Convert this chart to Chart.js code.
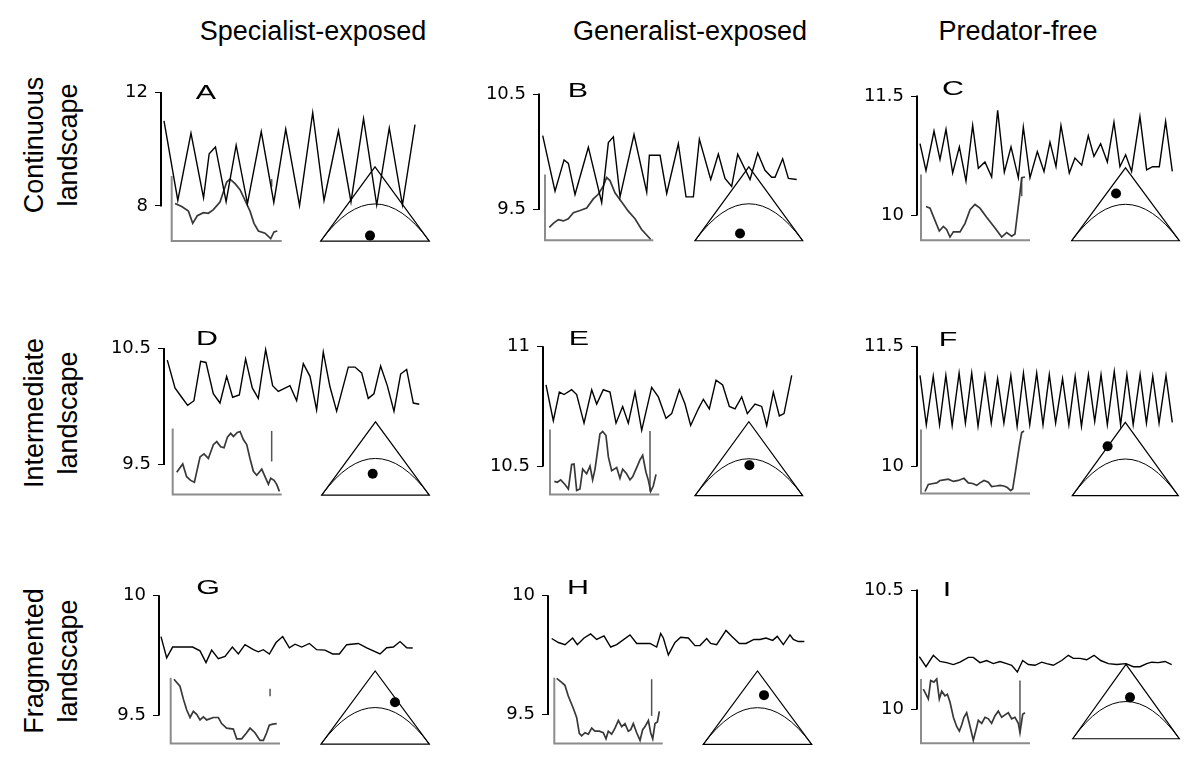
<!DOCTYPE html>
<html>
<head>
<meta charset="utf-8">
<script src="https://cdn.jsdelivr.net/npm/chart.js@4.4.1/dist/chart.umd.min.js"></script>
<style>
  html, body { margin: 0; padding: 0; background: #fff; }
  body { width: 1200px; height: 769px; position: relative; overflow: hidden;
         font-family: "Liberation Sans", Arial, sans-serif; color: #000; }
  canvas { position: absolute; }
  .col { position: absolute; font-size: 27px; line-height: 1; white-space: nowrap;
         transform: translate(-50%, -50%); }
  .row { position: absolute; font-size: 27px; line-height: 34px; width: 220px; text-align: center;
         white-space: nowrap; transform: translate(-50%, -50%) rotate(-90deg); }
  .tag { position: absolute; font-size: 21px; line-height: 1;
         transform: translate(-50%, -50%) scaleX(1.45); }
</style>
</head>
<body>
<script>
// ---- text ----
const columnTitles = ['Specialist-exposed', 'Generalist-exposed', 'Predator-free'];
const rowTitles = [['Continuous', 'landscape'], ['Intermediate', 'landscape'], ['Fragmented', 'landscape']];
const panelLetters = ['A', 'B', 'C', 'D', 'E', 'F', 'G', 'H', 'I'];

// y tick labels of each panel [lower, upper]
const yTicks = [[8, 12], [9.5, 10.5], [10, 11.5], [9.5, 10.5], [10.5, 11], [10, 11.5], [9.5, 10], [9.5, 10], [10, 10.5]];

// ---- main series: [generation, value] ----
const mainA = [[0,11.0],[2.2,8.19],[4.3,10.57],[6.3,8.28],[7.2,9.84],[8.2,10.08],[9.9,8.15],[11.5,10.14],[13.3,8.08],[15.5,10.62],[17.5,8.12],[19.4,10.71],[21.6,8.01],[23.7,11.29],[25.5,8.19],[27.8,10.65],[29.8,8.14],[31.8,11.08],[33.9,8.03],[35.9,10.75],[38.0,8.03],[40,10.87]];
const mainB = [[0,10.14],[1.94,9.66],[3.36,9.93],[4.04,9.9],[5.09,9.63],[7.19,10.04],[9.29,9.56],[10.34,10.08],[11.13,10.13],[12.18,9.61],[14.38,10.15],[16.38,9.65],[16.8,9.97],[18.48,9.97],[19.53,9.64],[21.36,10.07],[22.57,9.61],[23.73,9.61],[24.67,10.11],[26.46,9.76],[27.66,9.98],[28.71,9.77],[29.76,9.7],[30.71,9.98],[32.65,9.76],[33.86,9.99],[35.01,9.84],[36.06,9.78],[36.59,9.78],[37.79,9.94],[38.69,9.77],[40,9.76]];
const mainC = [[0,10.9],[0.95,10.56],[2.22,11.06],[3.17,10.7],[4.12,11.08],[5.18,10.53],[6.24,10.86],[7.29,10.43],[8.35,11.13],[9.25,10.59],[10.3,10.67],[11.36,10.48],[12.31,11.32],[13.37,10.54],[14.43,10.86],[15.59,10.47],[16.38,11.11],[17.44,10.47],[18.6,10.8],[19.66,10.55],[20.61,10.92],[21.56,10.61],[22.35,11.13],[23.67,10.53],[24.57,10.72],[25.63,10.63],[26.68,11.0],[27.58,10.74],[28.64,10.9],[29.7,10.67],[30.75,11.17],[31.7,10.61],[32.6,10.76],[33.55,10.55],[34.87,11.24],[35.93,10.57],[36.88,10.61],[37.94,10.61],[38.94,11.18],[40,10.55]];
const mainD = [[0,10.4],[1.22,10.16],[2.28,10.08],[3.23,10.01],[4.23,10.05],[5.29,10.39],[6.14,10.38],[7.3,10.11],[8.36,10.03],[9.42,10.26],[10.37,10.08],[11.43,10.1],[12.43,10.41],[13.49,10.16],[14.44,10.07],[15.61,10.49],[16.72,10.18],[17.62,10.13],[19.47,10.18],[20.53,10.05],[21.59,10.37],[22.65,10.26],[23.7,9.97],[24.76,10.47],[25.82,10.17],[26.88,9.96],[28.73,10.34],[29.79,10.34],[30.85,10.29],[31.9,10.07],[32.8,10.11],[33.86,10.35],[34.92,10.18],[35.98,9.96],[37.04,10.28],[37.99,10.32],[39.05,10.03],[40,10.02]];
const mainE = [[0,10.84],[1.19,10.69],[2.17,10.81],[2.93,10.8],[4.18,10.82],[4.99,10.8],[6.19,10.68],[7.44,10.82],[8.25,10.76],[9.33,10.82],[10.42,10.81],[11.4,10.68],[12.48,10.75],[13.4,10.68],[14.49,10.81],[15.58,10.65],[17.2,10.83],[18.29,10.79],[19.54,10.7],[20.46,10.72],[21.71,10.82],[22.63,10.76],[23.55,10.67],[24.8,10.74],[25.62,10.78],[26.59,10.74],[27.68,10.86],[28.76,10.84],[29.85,10.75],[30.77,10.74],[31.86,10.79],[32.78,10.72],[34.03,10.76],[35.11,10.75],[35.93,10.67],[37.01,10.81],[37.99,10.71],[38.75,10.72],[40,10.88]];
const mainF = [[0,11.14],[1,10.52],[2.1,11.13],[3.1,10.52],[4.1,11.14],[5.1,10.51],[6.2,11.17],[7.2,10.54],[8.2,11.17],[9.2,10.5],[10.3,11.14],[11.3,10.54],[12.3,11.1],[13.3,10.54],[14.4,11.14],[15.4,10.5],[16.4,11.17],[17.4,10.52],[18.5,11.17],[19.5,10.52],[20.5,11.15],[21.5,10.54],[22.6,11.1],[23.6,10.52],[24.6,11.13],[25.6,10.5],[26.7,11.15],[27.7,10.56],[28.7,11.15],[29.7,10.52],[30.8,11.19],[31.8,10.52],[32.8,11.15],[33.8,10.52],[34.9,11.15],[35.9,10.54],[36.9,11.13],[37.9,10.54],[39,11.14],[40,10.55]];
const mainG = [[0,9.829],[0.9,9.74],[1.85,9.785],[5.03,9.785],[6.2,9.769],[7.15,9.72],[8.05,9.772],[9.11,9.736],[10.17,9.746],[11.34,9.785],[12.29,9.756],[13.35,9.795],[14.68,9.774],[15.47,9.765],[16.26,9.774],[17.22,9.756],[18.28,9.804],[19.34,9.829],[20.4,9.782],[21.3,9.797],[22.36,9.785],[23.58,9.8],[24.74,9.774],[26.07,9.772],[27.28,9.756],[28.34,9.756],[29.51,9.795],[31.36,9.8],[32.69,9.782],[34.81,9.756],[35.87,9.782],[36.93,9.785],[37.99,9.808],[39.05,9.782],[40,9.781]];
const mainH = [[0,9.82],[1.06,9.803],[2.11,9.794],[3.32,9.822],[4.06,9.794],[5.12,9.822],[6.17,9.839],[7.12,9.816],[8.28,9.831],[9.34,9.784],[10.29,9.794],[12.4,9.835],[13.46,9.799],[15.57,9.799],[16.62,9.784],[17.26,9.841],[17.68,9.822],[18.47,9.751],[19.53,9.803],[20.42,9.825],[21.64,9.822],[22.69,9.79],[23.48,9.79],[24.54,9.82],[25.17,9.799],[26.12,9.794],[27.6,9.854],[28.5,9.829],[29.71,9.799],[30.77,9.799],[32.03,9.816],[32.98,9.816],[33.93,9.822],[34.99,9.812],[35.72,9.829],[36.68,9.794],[37.73,9.835],[38.26,9.816],[39.05,9.807],[40,9.807]];
const mainI = [[0,10.22],[1.06,10.178],[2.22,10.226],[3.28,10.2],[4.33,10.195],[5.39,10.187],[6.45,10.197],[7.77,10.217],[8.56,10.217],[9.62,10.195],[10.67,10.204],[11.73,10.191],[12.79,10.2],[13.84,10.191],[14.64,10.184],[15.54,10.156],[16.38,10.204],[17.28,10.187],[18.34,10.184],[19.39,10.197],[20.19,10.191],[21.24,10.184],[22.56,10.204],[23.62,10.226],[24.41,10.213],[25.47,10.213],[26.53,10.207],[27.69,10.226],[28.75,10.204],[29.96,10.191],[31.28,10.187],[32.76,10.191],[33.92,10.178],[34.98,10.178],[36.04,10.191],[36.83,10.197],[37.89,10.195],[38.94,10.2],[40,10.187]];

// ---- inset series: [% of run, % of inset range] ----
const insetA = [[3,57.7],[9.1,53],[15.2,46],[19.1,27.2],[23.3,39],[28.8,43.7],[33.3,42.7],[37.9,48.4],[43.9,60],[50,90.6],[53,95.3],[57.6,88.3],[62.1,78.9],[66.7,62.4],[71.2,46],[74.8,27.2],[78.8,15.5],[84.8,12.2],[90,3.8],[93,14.1],[96,15.5]];
const insetB = [[4,19.5],[7.7,25.6],[12.3,31.2],[17,29.3],[21.5,32.6],[26.2,41.9],[32.3,45.1],[38.5,48.8],[44.6,62.8],[49.2,69.8],[53.8,82.3],[56.9,95.3],[60,90.7],[64.6,72.1],[70.8,58.1],[76.9,44.2],[83.1,32.6],[89.2,16.3],[97.5,1.4]];
const insetC = [[4.6,51.2],[8.3,48.8],[12.8,30.2],[16.8,14],[20.5,20.9],[23.5,16.3],[26.6,4.7],[29.7,12.6],[35.8,12.6],[40.4,25.6],[45,46.5],[49.5,54.4],[54.1,48.8],[60.2,34.9],[67.9,18.6],[74,4.7],[78.6,11.6],[83.2,6],[86.2,9.3],[90.8,72.1],[92.4,95.3],[95.4,96.3]];
const insetD = [[3.7,33.8],[9.2,46.3],[12.8,26.9],[16.5,21.3],[19.9,18.5],[25.1,56.9],[28.7,61.6],[32.7,54.6],[37.3,75.5],[40.4,80.1],[44,72.2],[47.1,70.8],[50.2,87],[53.2,92.6],[55.7,88],[59.3,94],[61.8,95.4],[64.8,83.3],[67.9,75.5],[70.9,54.6],[74,35.2],[77.1,29.2],[81.7,38.4],[84.7,26.9],[87.8,15.3],[89.9,24.5],[93,21.3],[95.4,15.3],[97.9,4.6]];
const insetE = [[4,20.2],[6.7,18.8],[9.8,22.5],[13.7,15.5],[16.8,8.5],[19.8,46],[22,46.9],[24.4,6.1],[27.4,8.5],[29.9,39],[33.5,31.9],[36.6,43.7],[39,22.5],[41.2,39],[45.7,93],[48.2,96.7],[51.2,90.6],[53.4,57.7],[56.4,36.6],[61,41.3],[64,24.9],[66.5,39],[70.1,31.9],[73.2,22.5],[75.6,27.2],[79.3,41.3],[82.3,53.1],[84.8,60.1],[87.8,34.3],[89.9,22.5],[92.1,4.7],[94.5,13.1],[97,31]];
const insetF = [[3.7,3.3],[6.7,14.3],[11.3,15.7],[14.4,16.7],[17.4,20.5],[21.1,21.4],[25.1,22.4],[29.7,19],[34.3,20.5],[39.4,23.8],[43.4,16.7],[47.4,15.7],[51.1,12.9],[54.1,16.7],[57.8,20.5],[61.8,17.6],[64.8,11],[68.8,11.9],[72.5,12.9],[76.1,11.9],[79.2,9.5],[82.3,4.8],[84.1,7.1],[87.2,40.5],[90.2,73.8],[92.4,95.2],[94.5,97.6]];
const insetG = [[3,97.7],[8.5,87],[11.6,67.4],[14.6,51.2],[17.7,39.5],[20.7,48.8],[23.8,44.2],[26.8,35.8],[29.9,40.5],[32.9,35.8],[39,39.5],[43.6,39.5],[46.6,30.2],[51.2,23.3],[57.3,21.9],[60.4,7],[64.9,7],[69.5,16.3],[72.6,23.3],[77.1,16.3],[81.7,4.7],[84.8,4.7],[87.8,16.3],[90.2,27.9],[93.3,29.3],[97,30.2]];
const insetH = [[2.2,99],[6.8,93],[9.8,88.4],[12.9,72.1],[17.5,53.5],[20.6,39.5],[23.1,15.3],[25.2,11.6],[28.3,16.3],[31.4,14],[34.5,23.3],[37.5,18.6],[41.5,18.6],[45.2,16.3],[47.7,7],[49.8,18.6],[52.9,14],[56,23.3],[59.1,34.9],[62.2,25.6],[65.2,30.2],[68.3,18.6],[70.5,20.9],[72.9,30.2],[76,16.3],[79.1,4.7],[81.5,20.9],[83.7,25.6],[86.8,34.9],[88.9,16.3],[90.8,7],[92.9,30.2],[95.1,32.6],[96.9,48.8]];
const insetI = [[2.1,84.3],[4.6,76.2],[6.7,69],[8.9,97.6],[11.9,95.2],[14.4,100],[16.8,69],[19,81],[22,73.8],[24.2,76.2],[26.6,64.3],[29.7,40.5],[32.7,26.2],[35.2,19],[37.3,28.6],[39.4,40.5],[41.9,47.6],[45,26.2],[48,4.8],[50.5,21.4],[52.6,35.7],[55.7,31],[58.7,40.5],[61.8,38.1],[64.8,31],[67.9,42.9],[70.9,50],[74,40.5],[77.1,44.3],[80.1,47.6],[83.2,38.1],[86.2,40.5],[89.3,31],[90.8,16.7],[93.3,45.2],[95.4,47.6]];

// vertical bar drawn in some insets: [position, low, high] (null = none)
const insetBars = [[90.9,83.6,95.3], null, [92.4,67,95], [90.8,50,96.3], [91.5,4.7,97.7], null, [90.9,71.6,83.3], [89.8,41.9,97.7], [90.8,16.7,97.6]];

// point inside each simplex triangle: [across base 0..1, height 0..1]
const dots = [[0.454,0.074], [0.418,0.099], [0.412,0.649], [0.474,0.292], [0.505,0.413], [0.333,0.675], [0.683,0.573], [0.56,0.671], [0.5375,0.556]];

// ---- page geometry (pixels) ----
const colCenters = [313, 690, 1018];
const titleY = 31;
const rowLabelX = 51;
const rowCenters = [145, 413, 661];
const letterPos = [[206,91],[578,89],[953,87],[207,337],[579,337],[948,338],[208,586],[578,586],[947,588]];
// axisX, tickHi, tickLo, s0, s1 (main run), inset L,T,B,R, triangle L,R,base,apex
const frames = [
  [161, 90.7, 214.3, 164, 415, 171.7, 181.7, 252.7, 281.7, 320.7, 429.3, 252.7, 171.7],
  [539.3, 92.3, 218.3, 542.7, 796.7, 545, 180, 251.7, 653.3, 695, 802.7, 252.3, 171.7],
  [917.3, 94.3, 224.3, 920, 1172.3, 921, 180, 251.7, 1030, 1071.7, 1179.3, 252.3, 172.7],
  [164, 346.7, 473.3, 167.3, 419.3, 172.7, 434, 506, 281.7, 321.7, 429.3, 506.7, 426.7],
  [542.7, 345, 475, 546, 791.7, 550, 435, 506, 659.3, 695, 802.7, 507.3, 426.7],
  [917.3, 345, 475, 920, 1172.3, 921, 435, 505, 1030, 1072.3, 1178.3, 507.3, 427.3],
  [159.3, 594, 724, 161, 412.7, 170.7, 683.3, 755, 280, 321, 429.3, 755.7, 676],
  [548.3, 594, 723.3, 551.7, 804.3, 554.3, 683.3, 755, 662.7, 703.3, 811.7, 756, 676],
  [917.3, 588.3, 717.7, 919.3, 1171.7, 921, 685, 755, 1030, 1072.7, 1179.3, 750, 669]
];

const mains = [mainA, mainB, mainC, mainD, mainE, mainF, mainG, mainH, mainI];
const insets = [insetA, insetB, insetC, insetD, insetE, insetF, insetG, insetH, insetI];

// ---- text elements ----
function addDiv(cls, html, x, y) {
  const d = document.createElement('div');
  d.className = cls;
  d.innerHTML = html;
  d.style.left = x + 'px';
  d.style.top = y + 'px';
  d.style.zIndex = 2;
  document.body.appendChild(d);
}
columnTitles.forEach((t, i) => addDiv('col', t, colCenters[i], titleY));
rowTitles.forEach((t, i) => addDiv('row', t.join('<br>'), rowLabelX, rowCenters[i]));
panelLetters.forEach((t, i) => addDiv('tag', t, letterPos[i][0], letterPos[i][1]));

// value range of a scale spanning pixels lo..hi, with v0 at pixel p0 and v1 at pixel p1
function span(p0, p1, v0, v1, lo, hi) {
  const k = (v1 - v0) / (p1 - p0);
  const a = v0 + (lo - p0) * k, b = v0 + (hi - p0) * k;
  return { min: Math.min(a, b), max: Math.max(a, b) };
}

// axis line between the two ticks, inset axes, simplex triangle with its parabola
const framePlugin = {
  id: 'frame',
  beforeDatasetsDraw(chart, args, opts) {
    const { ctx, chartArea } = chart;
    const s = chart.scales;
    ctx.save();
    ctx.lineCap = 'butt';
    ctx.strokeStyle = '#000';
    ctx.lineWidth = 2;
    ctx.beginPath();
    ctx.moveTo(chartArea.left, s.y.getPixelForValue(opts.ticks[1]) - 0.5);
    ctx.lineTo(chartArea.left, s.y.getPixelForValue(opts.ticks[0]) + 0.5);
    ctx.stroke();

    ctx.strokeStyle = '#8c8c8c';
    ctx.lineWidth = 2;
    ctx.beginPath();
    ctx.moveTo(s.xi.getPixelForValue(0), s.yi.getPixelForValue(100));
    ctx.lineTo(s.xi.getPixelForValue(0), s.yi.getPixelForValue(0));
    ctx.lineTo(s.xi.getPixelForValue(100), s.yi.getPixelForValue(0));
    ctx.stroke();

    const px = v => s.xt.getPixelForValue(v), py = v => s.yt.getPixelForValue(v);
    ctx.strokeStyle = '#000';
    ctx.lineWidth = 1.2;
    ctx.beginPath();
    ctx.moveTo(px(0), py(0));
    ctx.lineTo(px(0.5), py(1));
    ctx.lineTo(px(1), py(0));
    ctx.closePath();
    ctx.stroke();
    ctx.lineWidth = 1;
    ctx.beginPath();
    ctx.moveTo(px(0), py(0));
    ctx.quadraticCurveTo(px(0.5), py(1), px(1), py(0));
    ctx.stroke();
    ctx.restore();
  }
};

function line(points, xid, yid, color, width) {
  return {
    type: 'line',
    data: points.map(p => ({ x: p[0], y: p[1] })),
    xAxisID: xid, yAxisID: yid,
    borderColor: color, borderWidth: width,
    pointRadius: 0, tension: 0, fill: false, clip: false
  };
}

function panel(i) {
  const f = frames[i];
  const [axisX, tickHi, tickLo, s0, s1, inL, inT, inB, inR, trL, trR, trB, trT] = f;
  const left = Math.round(axisX) - 70;
  const top = Math.round(tickHi) - 16;
  const areaL = left + 70, areaT = top + 16;
  const areaR = Math.ceil(Math.max(trR, s1)) + 2;
  const areaB = Math.ceil(Math.max(trB, inB)) + 2;

  const cv = document.createElement('canvas');
  cv.width = areaR - left + 6;
  cv.height = areaB - top + 6;
  cv.style.left = left + 'px';
  cv.style.top = top + 'px';
  document.body.appendChild(cv);

  const ticks = yTicks[i];
  const x = span(s0, s1, 0, 40, areaL, areaR);
  const y = span(tickLo, tickHi, ticks[0], ticks[1], areaT, areaB);
  const xi = span(inL, inR, 0, 100, areaL, areaR);
  const yi = span(inB, inT, 0, 100, areaT, areaB);
  const xt = span(trL, trR, 0, 1, areaL, areaR);
  const yt = span(trB, trT, 0, 1, areaT, areaB);

  const datasets = [
    line(mains[i], 'x', 'y', '#000', 1.4),
    line(insets[i], 'xi', 'yi', '#383838', 1.7)
  ];
  const bar = insetBars[i];
  if (bar) datasets.push(line([[bar[0], bar[1]], [bar[0], bar[2]]], 'xi', 'yi', '#555', 1.5));
  datasets.push({
    type: 'line', data: [{ x: dots[i][0], y: dots[i][1] }],
    xAxisID: 'xt', yAxisID: 'yt', showLine: false,
    pointRadius: 5, pointBackgroundColor: '#000', pointBorderWidth: 0, clip: false
  });

  new Chart(cv, {
    type: 'line',
    data: { datasets },
    plugins: [framePlugin],
    options: {
      responsive: false,
      animation: false,
      events: [],
      layout: { padding: { left: 0, top: 16, right: 6, bottom: 6 } },
      plugins: {
        legend: { display: false },
        tooltip: { enabled: false },
        frame: { ticks }
      },
      scales: {
        x: { type: 'linear', axis: 'x', display: false, min: x.min, max: x.max },
        y: {
          type: 'linear', axis: 'y', position: 'left', min: y.min, max: y.max,
          afterFit: sc => { sc.width = 70; },
          afterBuildTicks: sc => { sc.ticks = ticks.map(v => ({ value: v })); },
          border: { display: false },
          grid: { drawOnChartArea: false, drawTicks: true, tickLength: 6, color: '#000', lineWidth: 1 },
          ticks: { color: '#000', padding: 7, font: { family: 'DejaVu Sans', size: 18 }, callback: v => String(v) }
        },
        xi: { type: 'linear', axis: 'x', display: false, min: xi.min, max: xi.max },
        yi: { type: 'linear', axis: 'y', display: false, min: yi.min, max: yi.max },
        xt: { type: 'linear', axis: 'x', display: false, min: xt.min, max: xt.max },
        yt: { type: 'linear', axis: 'y', display: false, min: yt.min, max: yt.max }
      }
    }
  });
}

for (let i = 0; i < 9; i++) panel(i);
</script>
</body>
</html>
